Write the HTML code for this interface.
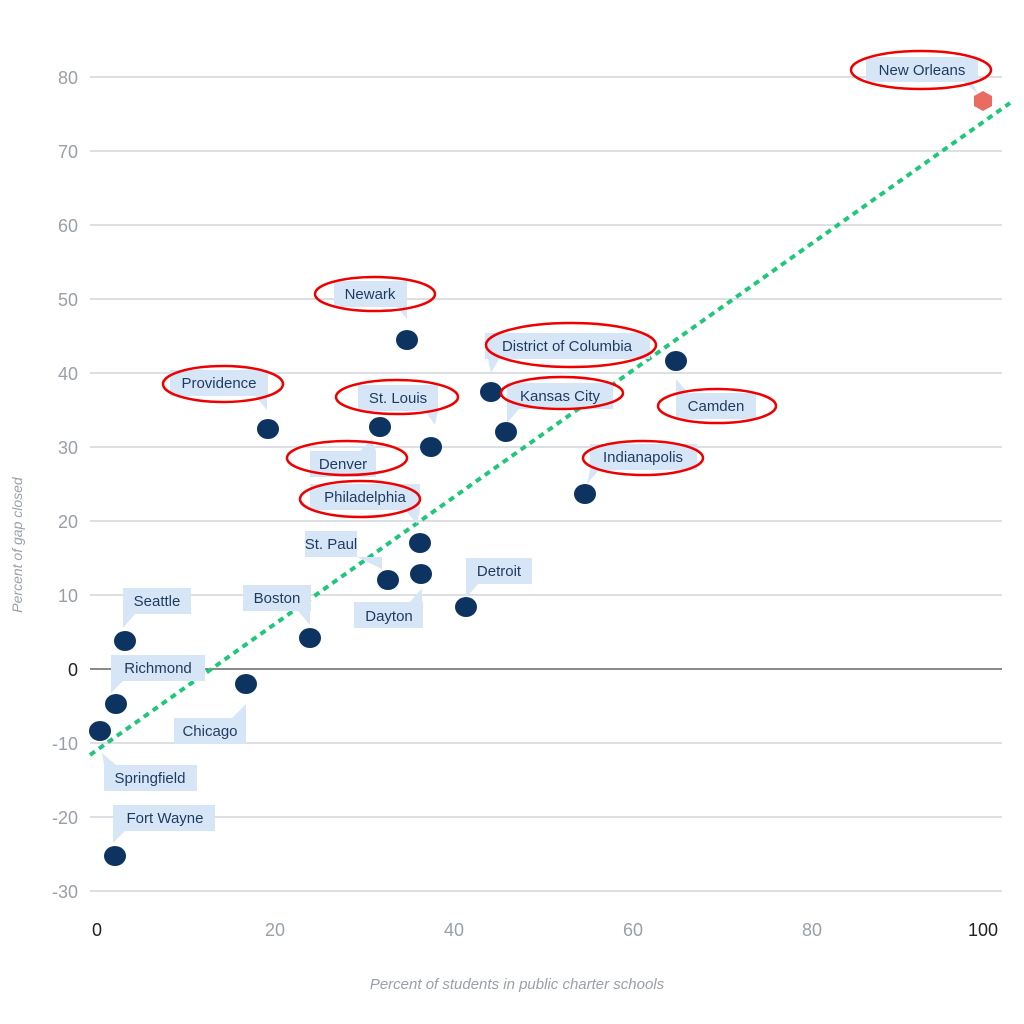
<!DOCTYPE html>
<html><head><style>body{margin:0;background:#fff}svg{display:block}</style></head><body>
<svg width="1024" height="1024" viewBox="0 0 1024 1024" font-family="Liberation Sans, sans-serif">
<g stroke="#c9ccd3" stroke-width="1.3">
<line x1="90" x2="1002" y1="77" y2="77"/><line x1="90" x2="1002" y1="151" y2="151"/><line x1="90" x2="1002" y1="225" y2="225"/><line x1="90" x2="1002" y1="299" y2="299"/><line x1="90" x2="1002" y1="373" y2="373"/><line x1="90" x2="1002" y1="447" y2="447"/><line x1="90" x2="1002" y1="521" y2="521"/><line x1="90" x2="1002" y1="595" y2="595"/><line x1="90" x2="1002" y1="743" y2="743"/><line x1="90" x2="1002" y1="817" y2="817"/><line x1="90" x2="1002" y1="891" y2="891"/>
</g>
<line x1="90" x2="1002" y1="669" y2="669" stroke="#444" stroke-width="1.3"/>
<g font-size="18" fill="#9aa0a8" text-anchor="end">
<text x="78" y="84">80</text><text x="78" y="158">70</text><text x="78" y="232">60</text><text x="78" y="306">50</text><text x="78" y="380">40</text><text x="78" y="454">30</text><text x="78" y="528">20</text><text x="78" y="602">10</text><text x="78" y="676" fill="#222">0</text><text x="78" y="750">-10</text><text x="78" y="824">-20</text><text x="78" y="898">-30</text>
</g>
<g font-size="18" fill="#9aa0a8" text-anchor="middle">
<text x="97" y="936" fill="#222">0</text><text x="275" y="936">20</text><text x="454" y="936">40</text><text x="633" y="936">60</text><text x="812" y="936">80</text><text x="983" y="936" fill="#222">100</text>
</g>
<text x="517" y="989" font-size="15" font-style="italic" fill="#9aa0a8" text-anchor="middle">Percent of students in public charter schools</text>
<text transform="translate(22,545) rotate(-90)" font-size="14" font-style="italic" fill="#9aa0a8" text-anchor="middle">Percent of gap closed</text>
<line x1="90" y1="755" x2="1010" y2="103" stroke="#1fc77a" stroke-width="4" stroke-dasharray="6 5"/>
<g fill="#d6e6f7">
<path d="M866,57h112v25h-6l6,12l-14,-12h-98z"/>
<rect x="334" y="281" width="73" height="26"/><path d="M397,307l10,12v-12z"/>
<rect x="485" y="333" width="165" height="26"/><path d="M488,359l3,14l8,-14z"/>
<rect x="170" y="370" width="98" height="26"/><path d="M255,396l12,14v-14z"/>
<rect x="358" y="385" width="80" height="26"/><path d="M425,411l10,14l3,-14z"/>
<rect x="507" y="383" width="106" height="26"/><path d="M507,409l0,14l12,-14z"/>
<rect x="676" y="393" width="80" height="26"/><path d="M676,393l0,-14l12,14z"/>
<rect x="310" y="451" width="66" height="26"/><path d="M360,451l12,-12l4,12z"/>
<rect x="590" y="444" width="107" height="26"/><path d="M590,470l-3,14l12,-14z"/>
<rect x="310" y="484" width="110" height="26"/><path d="M405,510l12,14l3,-14z"/>
<rect x="305" y="531" width="52" height="26"/><path d="M357,557l25,12v-12z"/>
<rect x="466" y="558" width="66" height="26"/><path d="M466,584l0,14l12,-14z"/>
<rect x="243" y="585" width="68" height="26"/><path d="M298,611l12,14v-14z"/>
<rect x="354" y="602" width="69" height="26"/><path d="M410,602l12,-14v14z"/>
<rect x="123" y="588" width="68" height="26"/><path d="M123,614l0,14l12,-14z"/>
<rect x="111" y="655" width="94" height="26"/><path d="M111,681l0,12l12,-12z"/>
<rect x="174" y="718" width="72" height="26"/><path d="M232,718l14,-14v14z"/>
<rect x="104" y="765" width="93" height="26"/><path d="M104,765l-2,-12l14,12z"/>
<rect x="113" y="805" width="102" height="26"/><path d="M113,831l0,12l12,-12z"/>
</g>
<g font-size="15" fill="#1e3a5f" text-anchor="middle">
<text x="922" y="75">New Orleans</text><text x="370" y="299">Newark</text><text x="567" y="351">District of Columbia</text><text x="219" y="388">Providence</text><text x="398" y="403">St. Louis</text><text x="560" y="401">Kansas City</text><text x="716" y="411">Camden</text><text x="343" y="469">Denver</text><text x="643" y="462">Indianapolis</text><text x="365" y="502">Philadelphia</text><text x="331" y="549">St. Paul</text><text x="499" y="576">Detroit</text><text x="277" y="603">Boston</text><text x="389" y="621">Dayton</text><text x="157" y="606">Seattle</text><text x="158" y="673">Richmond</text><text x="210" y="736">Chicago</text><text x="150" y="783">Springfield</text><text x="165" y="823">Fort Wayne</text>
</g>
<g fill="#0d3461">
<ellipse cx="115" cy="856" rx="11" ry="10"/><ellipse cx="100" cy="731" rx="11" ry="10"/><ellipse cx="116" cy="704" rx="11" ry="10"/><ellipse cx="125" cy="641" rx="11" ry="10"/><ellipse cx="246" cy="684" rx="11" ry="10"/><ellipse cx="310" cy="638" rx="11" ry="10"/><ellipse cx="388" cy="580" rx="11" ry="10"/><ellipse cx="421" cy="574" rx="11" ry="10"/><ellipse cx="466" cy="607" rx="11" ry="10"/><ellipse cx="420" cy="543" rx="11" ry="10"/><ellipse cx="380" cy="427" rx="11" ry="10"/><ellipse cx="431" cy="447" rx="11" ry="10"/><ellipse cx="268" cy="429" rx="11" ry="10"/><ellipse cx="407" cy="340" rx="11" ry="10"/><ellipse cx="491" cy="392" rx="11" ry="10"/><ellipse cx="506" cy="432" rx="11" ry="10"/><ellipse cx="676" cy="361" rx="11" ry="10"/><ellipse cx="585" cy="494" rx="11" ry="10"/>
</g>
<polygon points="983,91 992,96 992,106 983,111 974,106 974,96" fill="#ea6b61"/>
<g fill="none" stroke="#e00" stroke-width="2.5">
<ellipse cx="921" cy="70" rx="70" ry="19"/><ellipse cx="375" cy="294" rx="60" ry="17"/><ellipse cx="571" cy="345" rx="85" ry="22"/><ellipse cx="223" cy="384" rx="60" ry="18"/><ellipse cx="397" cy="397" rx="61" ry="17"/><ellipse cx="562" cy="393" rx="61" ry="16"/><ellipse cx="717" cy="406" rx="59" ry="17"/><ellipse cx="347" cy="458" rx="60" ry="17"/><ellipse cx="643" cy="458" rx="60" ry="17"/><ellipse cx="360" cy="499" rx="60" ry="18"/>
</g>
</svg>
</body></html>
